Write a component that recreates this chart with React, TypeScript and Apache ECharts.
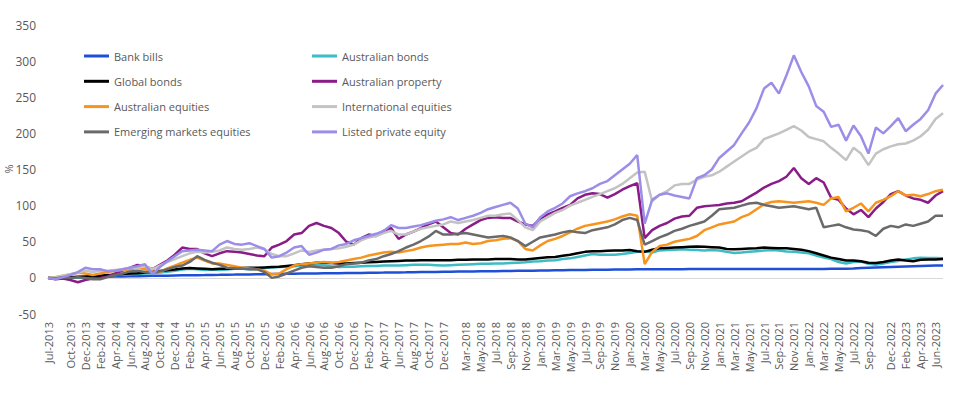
import React, { useEffect, useRef } from "react";
import * as echarts from "echarts";

const CATEGORIES = [
  "Jul-2013","Aug-2013","Sep-2013","Oct-2013","Nov-2013","Dec-2013",
  "Jan-2014","Feb-2014","Mar-2014","Apr-2014","May-2014","Jun-2014","Jul-2014","Aug-2014","Sep-2014","Oct-2014","Nov-2014","Dec-2014",
  "Jan-2015","Feb-2015","Mar-2015","Apr-2015","May-2015","Jun-2015","Jul-2015","Aug-2015","Sep-2015","Oct-2015","Nov-2015","Dec-2015",
  "Jan-2016","Feb-2016","Mar-2016","Apr-2016","May-2016","Jun-2016","Jul-2016","Aug-2016","Sep-2016","Oct-2016","Nov-2016","Dec-2016",
  "Jan-2017","Feb-2017","Mar-2017","Apr-2017","May-2017","Jun-2017","Jul-2017","Aug-2017","Sep-2017","Oct-2017","Nov-2017","Dec-2017",
  "Jan-2018","Feb-2018","Mar-2018","Apr-2018","May-2018","Jun-2018","Jul-2018","Aug-2018","Sep-2018","Oct-2018","Nov-2018","Dec-2018",
  "Jan-2019","Feb-2019","Mar-2019","Apr-2019","May-2019","Jun-2019","Jul-2019","Aug-2019","Sep-2019","Oct-2019","Nov-2019","Dec-2019",
  "Jan-2020","Feb-2020","Mar-2020","Apr-2020","May-2020","Jun-2020","Jul-2020","Aug-2020","Sep-2020","Oct-2020","Nov-2020","Dec-2020",
  "Jan-2021","Feb-2021","Mar-2021","Apr-2021","May-2021","Jun-2021","Jul-2021","Aug-2021","Sep-2021","Oct-2021","Nov-2021","Dec-2021",
  "Jan-2022","Feb-2022","Mar-2022","Apr-2022","May-2022","Jun-2022","Jul-2022","Aug-2022","Sep-2022","Oct-2022","Nov-2022","Dec-2022",
  "Jan-2023","Feb-2023","Mar-2023","Apr-2023","May-2023","Jun-2023","Jul-2023",
];

const TICK_LABELS = [
  "Jul-2013","Oct-2013","Dec-2013","Feb-2014","Apr-2014","Jun-2014","Aug-2014","Oct-2014","Dec-2014",
  "Feb-2015","Apr-2015","Jun-2015","Aug-2015","Oct-2015","Dec-2015","Feb-2016","Apr-2016","Jun-2016",
  "Aug-2016","Oct-2016","Dec-2016","Feb-2017","Apr-2017","Jun-2017","Aug-2017","Oct-2017","Dec-2017",
  "Mar-2018","May-2018","Jul-2018","Sep-2018","Nov-2018","Jan-2019","Mar-2019","May-2019","Jul-2019",
  "Sep-2019","Nov-2019","Jan-2020","Mar-2020","May-2020","Jul-2020","Sep-2020","Nov-2020","Jan-2021",
  "Mar-2021","May-2021","Jul-2021","Sep-2021","Nov-2021","Jan-2022","Mar-2022","May-2022","Jul-2022",
  "Sep-2022","Dec-2022","Feb-2023","Apr-2023","Jun-2023",
];

const Y_AXIS_TITLE = "%";

const BANK_BILLS = [
  0,0.2,0.4,0.6,0.8,1.0,1.2,1.4,1.6,1.8,2.0,2.2,
  2.4,2.6,2.8,3.0,3.1,3.3,3.5,3.6,3.8,3.9,4.1,4.2,
  4.4,4.5,4.7,4.8,5.0,5.1,5.3,5.4,5.6,5.7,5.9,6.0,
  6.1,6.3,6.4,6.5,6.7,6.8,6.9,7.1,7.2,7.3,7.5,7.6,
  7.7,7.9,8.0,8.1,8.3,8.4,8.5,8.7,8.8,8.9,9.1,9.2,
  9.3,9.5,9.6,9.8,9.9,10.0,10.2,10.3,10.5,10.6,10.8,10.9,
  11.0,11.2,11.3,11.4,11.5,11.6,11.7,11.8,11.9,12.0,12.0,12.1,
  12.1,12.1,12.2,12.2,12.2,12.2,12.3,12.3,12.3,12.3,12.3,12.3,
  12.4,12.4,12.4,12.4,12.4,12.4,12.4,12.4,12.4,12.5,12.6,12.8,
  13.1,13.5,13.9,14.3,14.7,15.1,15.5,15.9,16.2,16.5,16.8,17.0,
  17.2,
];

const AUSTRALIAN_BONDS = [
  0,-0.5,0,0.5,0.5,1,1.5,2.5,3,4,4.5,5,
  5.5,6,6.5,7.5,8.5,10,11.5,12.5,12,11,11.5,11,
  11.5,12.5,12.5,12,12,13.5,14.5,15,15.5,16,17,18,
  18.5,17.5,16,15,15.5,15.5,16,16.5,16.5,17,17,17,
  17.5,18,18,18,17.5,17,17.5,18,18.5,19,19.5,19.5,
  20,20,20.5,21,21.5,22.5,23,24,24.5,26,27,29,
  31,33,32,32,32,33,34.5,36,37,35,38,38.5,
  39,39.5,39,38.5,38,38.5,38,36,34.5,35,36,37,
  38,38.5,38,36.5,36,35,34,31,28,26,22,20,
  22,22.5,19.5,18,20,22,23.5,25.5,27,28,27.5,27.5,
  27,
];

const GLOBAL_BONDS = [
  0,0,0.5,1,1.5,2,2.5,3,4,4.5,5.5,6,
  6.5,7.5,8.5,9.5,10.5,11.5,13,13.5,13,12.5,12,12.5,
  12.5,13,13.5,14,14,14.5,15,15.5,16.5,17.5,19,20,
  21,21,20.5,20,20,20.5,21,21.5,22,22.5,23,23.5,
  24,24,24.5,24.5,24.5,24.5,24.5,25,25,25.5,25.5,25.5,
  26,26,26,25.5,25.5,26.5,27.5,28.5,29,30.5,32,34,
  36,37,37,37.5,38,38,38.5,37,36,39,41,41.5,
  42,42.5,43,43.5,43,42.5,42,40,39.5,40,40.5,41,
  42,41.5,41,41,40,39,37,34,31,28,26,24,
  24,23,21,20.5,22,24,25.5,24,23,25,25.5,25.5,
  26,
];

const AUSTRALIAN_PROPERTY = [
  0,-2,-1,-3,-6,-3,-1,0,2,6,10,14,
  18,16,12,18,24,32,42,40,40,34,30,34,
  37,36,35,33,31,30,42,46,51,60,62,72,
  76,72,69,62,50,46,55,60,58,65,69,54,
  60,64,69,74,78,70,62,60,68,74,80,83,
  84,83,83,78,74,72,82,88,92,97,101,110,
  115,117,116,111,116,122,127,131,55,66,72,76,
  82,85,86,97,99,100,101,103,104,106,112,118,
  125,130,134,140,152,138,130,138,132,111,108,96,
  88,94,84,96,105,116,120,114,110,108,104,114,
  120,
];

const AUSTRALIAN_EQUITIES = [
  0,1,3,5,7,6,4,6,8,10,11,12,
  14,12,9,8,13,17,21,25,28,24,20,20,
  18,16,14,13,12,10,5,6,12,17,19,20,
  21,22,21,22,24,26,28,31,33,35,36,35,
  37,39,42,44,45,46,47,47,49,47,48,51,
  52,54,55,51,40,38,45,51,54,58,63,68,
  72,74,76,78,81,85,88,86,19,36,44,46,
  50,52,54,58,66,70,74,76,78,84,88,95,
  102,105,106,105,104,105,106,104,101,110,112,92,
  97,103,92,104,108,113,120,114,115,113,116,120,
  122,
];

const INTERNATIONAL_EQUITIES = [
  0,1,3,5,7,10,8,10,10,11,12,14,
  14,16,12,17,22,26,30,34,36,35,36,38,
  42,40,39,40,42,40,33,30,30,34,38,36,
  38,39,40,41,43,46,52,56,58,62,65,60,
  60,64,68,70,72,74,78,76,78,80,83,86,
  86,88,89,80,70,66,78,84,90,94,100,104,
  108,112,116,120,124,130,138,146,147,106,115,120,
  128,130,130,136,140,142,147,154,161,168,175,180,
  192,196,200,205,210,204,195,192,189,180,172,163,
  180,172,156,172,178,182,185,186,190,196,205,220,
  228,
];

const EMERGING_MARKETS_EQUITIES = [
  0,-1,1,0,1,0,-2,-2,1,4,6,9,
  10,8,7,9,12,15,17,22,30,25,21,18,
  14,13,13,12,12,8,0,2,6,10,14,16,
  15,14,14,16,19,20,21,24,26,30,33,37,
  42,46,51,57,65,60,60,61,62,60,58,56,
  57,58,56,51,44,50,56,58,60,63,65,63,
  62,66,68,70,74,80,83,80,46,51,56,60,
  65,68,72,75,78,86,95,96,97,100,103,104,
  101,99,97,98,99,97,95,97,70,72,74,70,
  67,66,64,58,68,72,70,74,72,75,78,86,
  86,
];

const LISTED_PRIVATE_EQUITY = [
  0,-2,1,4,8,14,12,12,9,10,12,14,
  16,19,5,15,23,30,37,38,39,38,37,46,
  51,47,46,48,44,40,28,30,35,42,44,32,
  35,39,40,45,47,52,55,58,61,65,73,69,
  69,71,73,76,79,81,84,80,83,86,90,95,
  98,101,104,96,75,70,84,92,97,103,113,117,
  120,124,130,134,142,150,158,170,75,108,115,117,
  114,112,110,138,142,150,166,175,184,200,215,235,
  262,270,255,280,308,285,265,238,230,209,212,190,
  211,196,172,208,200,210,221,203,212,220,232,255,
  267,
];

const SERIES_NAMES = [
  "Bank bills",
  "Australian bonds",
  "Global bonds",
  "Australian property",
  "Australian equities",
  "International equities",
  "Emerging markets equities",
  "Listed private equity",
];
const SERIES_DATA = [
  BANK_BILLS,
  AUSTRALIAN_BONDS,
  GLOBAL_BONDS,
  AUSTRALIAN_PROPERTY,
  AUSTRALIAN_EQUITIES,
  INTERNATIONAL_EQUITIES,
  EMERGING_MARKETS_EQUITIES,
  LISTED_PRIVATE_EQUITY,
];
const SERIES_COLORS = [
  "#1f4fd6",
  "#3cbcc4",
  "#000000",
  "#8a1c88",
  "#f7941d",
  "#c3c3c3",
  "#6a6a6a",
  "#9b8ee8",
];

const LEGEND_LEFT = ["Bank bills", "Global bonds", "Australian equities", "Emerging markets equities"];
const LEGEND_RIGHT = ["Australian bonds", "Australian property", "International equities", "Listed private equity"];

const FONT = "'Open Sans', 'Noto Sans', sans-serif";
const TEXT_COLOR = "#595959";

export default function App() {
  const ref = useRef<HTMLDivElement>(null);
  useEffect(() => {
    if (!ref.current) return;
    const chart = echarts.init(ref.current, undefined, { renderer: "svg" });
    const legendCommon = {
      orient: "vertical" as const,
      top: 50,
      padding: 0,
      itemWidth: 25,
      itemHeight: 3,
      itemGap: 13.3,
      icon: "rect",
      textStyle: { fontFamily: FONT, fontSize: 11, color: TEXT_COLOR, lineHeight: 12 },
    };
    chart.setOption({
      animation: false,
      textStyle: { fontFamily: FONT },
      grid: {
        left: 48,
        right: 11,
        top: 25,
        bottom: 80,
        containLabel: false,
        outerBoundsMode: "none",
      },
      legend: [
        { ...legendCommon, left: 84, data: LEGEND_LEFT },
        { ...legendCommon, left: 312, data: LEGEND_RIGHT },
      ],
      graphic: [
        {
          type: "text",
          x: 8,
          y: 169,
          rotation: Math.PI / 2,
          silent: true,
          style: {
            text: Y_AXIS_TITLE,
            fontFamily: FONT,
            fontSize: 11,
            fill: TEXT_COLOR,
            align: "center",
            verticalAlign: "middle",
          },
        },
      ],
      xAxis: {
        type: "category",
        data: CATEGORIES,
        boundaryGap: false,
        axisLine: { show: false, onZero: false },
        axisTick: { show: false },
        splitLine: { show: false },
        axisLabel: {
          rotate: 90,
          margin: 8,
          fontSize: 11,
          color: TEXT_COLOR,
          fontFamily: FONT,
          interval: (_i: number, v: string) => TICK_LABELS.includes(v),
        },
      },
      yAxis: {
        type: "value",
        min: -50,
        max: 350,
        interval: 50,
        axisLine: { show: false },
        axisTick: { show: false },
        splitLine: { show: false },
        axisLabel: { fontSize: 12, color: TEXT_COLOR, fontFamily: FONT, margin: 12 },
      },
      series: SERIES_NAMES.map((name, idx) => ({
        name,
        type: "line",
        data: SERIES_DATA[idx],
        showSymbol: false,
        symbol: "none",
        color: SERIES_COLORS[idx],
        lineStyle: { width: 2.5, color: SERIES_COLORS[idx] },
        ...(idx === 0
          ? {
              markLine: {
                silent: true,
                symbol: "none",
                label: { show: false },
                lineStyle: { color: "#d9d9d9", width: 1, type: "solid" },
                data: [{ yAxis: 0 }],
                z: 0,
              },
            }
          : {}),
      })),
    });
    return () => chart.dispose();
  }, []);
  return (
    <div
      ref={ref}
      style={{ position: "absolute", left: 0, top: 0, width: 954, height: 394 }}
    />
  );
}
